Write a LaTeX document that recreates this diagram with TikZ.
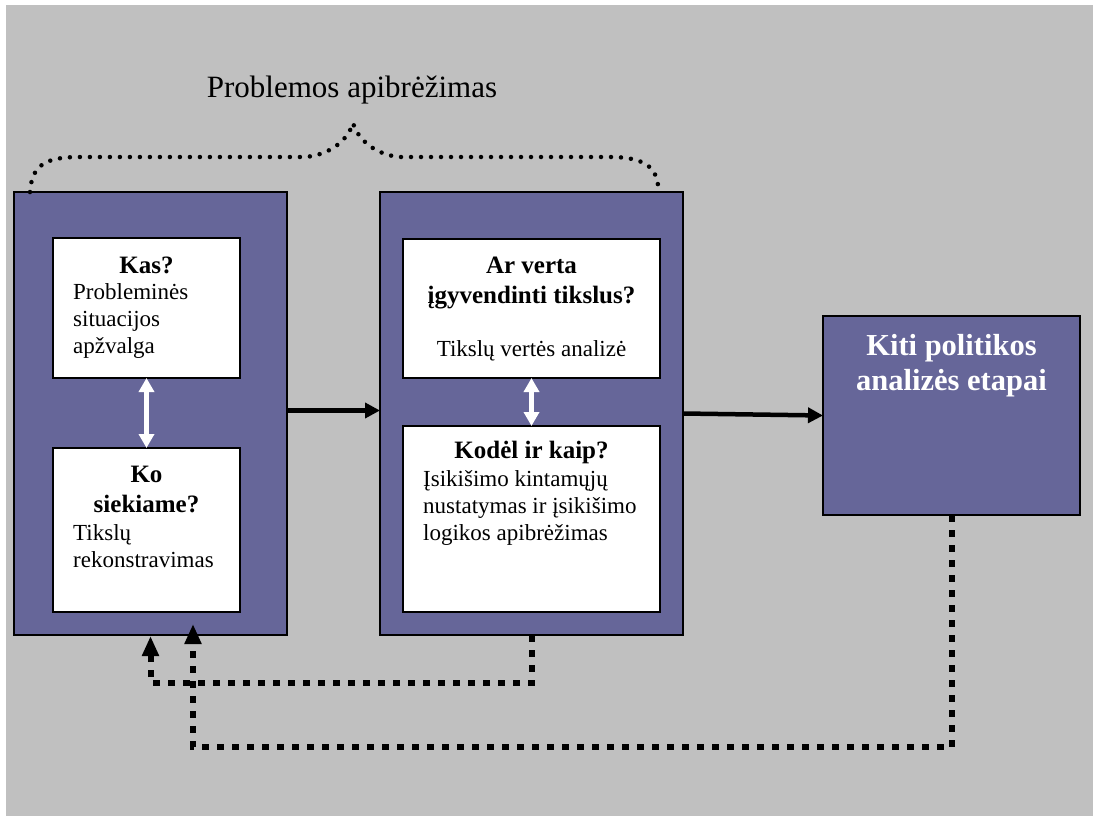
\documentclass[tikz,border=0pt]{standalone}
\usepackage{fontspec}
\setmainfont{Liberation Serif}
\usetikzlibrary{arrows.meta}
\definecolor{bggray}{HTML}{C0C0C0}
\definecolor{boxpurple}{HTML}{666699}
\tikzset{
  outerbox/.style={draw=black, fill=boxpurple, line width=1.5pt, anchor=north west, inner sep=0pt, outer sep=0pt},
  innerbox/.style={draw=black, fill=white, line width=1.5pt, anchor=north west, inner sep=0pt, outer sep=0pt},
  headtxt/.style={inner sep=0pt, anchor=north, align=center, font=\fontsize{25}{30}\selectfont\bfseries},
  bodytxt/.style={inner sep=0pt, anchor=north west, align=left, font=\fontsize{23}{27}\selectfont},
  bodyctxt/.style={inner sep=0pt, anchor=north, align=center, font=\fontsize{23}{27}\selectfont},
  whitearrow/.style={draw=white, line width=5pt, {Triangle[width=15pt,length=14pt]}-{Triangle[width=15pt,length=14pt]}},
  flowarrow/.style={draw=black, line width=4.5pt, -{Triangle[width=15pt,length=15pt]}},
  fbline/.style={draw=black, line width=6pt, dash pattern=on 7pt off 8pt, -{Triangle[width=16pt,length=20pt]}},
  bracedots/.style={draw=black, line width=4.5pt, dash pattern=on 0pt off 10pt, line cap=round}
}
\begin{document}
\begin{tikzpicture}[x=1pt,y=-1pt]
\useasboundingbox (0,0) rectangle (1093,816);
\fill[white] (0,0) rectangle (1093,816);
\fill[bggray] (6,5) rectangle (1093,816);

% title and brace
\node[inner sep=0pt, anchor=base, font=\fontsize{31}{36}\selectfont] (title) at (352,98) {Problemos apibrėžimas};

% boxes
\node[outerbox, minimum width=273pt, minimum height=443pt] (left) at (14,192) {};
\node[innerbox, minimum width=187pt, minimum height=140pt] (kas) at (53,238) {};
\node[innerbox, minimum width=187pt, minimum height=164pt] (ko) at (53,448) {};
\node[outerbox, minimum width=303pt, minimum height=443pt] (mid) at (380,192) {};
\node[innerbox, minimum width=257pt, minimum height=139pt] (ar) at (403,239) {};
\node[innerbox, minimum width=257pt, minimum height=186pt] (kod) at (403,426) {};
\node[outerbox, minimum width=257pt, minimum height=199pt] (right) at (823,316) {};

% brace coordinates
\coordinate (bL) at (30,192);
\coordinate (bTop) at (353,123);
\coordinate (bR) at (658,185);
\draw[bracedots] (bL) .. controls (32,165) and (45,157) .. (80,157) -- (305,157)
   .. controls (330,155) and (348,140) .. (bTop)
   .. controls (358,140) and (376,155) .. (400,157) -- (610,157)
   .. controls (645,157) and (656,168) .. (bR);

% texts
\node[headtxt] (kasH) at (146.5,252) {\strut Kas?};
\node[bodytxt] (kasB) at (73,280) {\strut Probleminės\\situacijos\\apžvalga};
\node[headtxt] (koH) at (146.5,461) {\strut Ko\\siekiame?};
\node[bodytxt] (koB) at (73,521) {\strut Tikslų\\rekonstravimas};
\node[headtxt] (arH) at (531.5,252) {\strut Ar verta\\įgyvendinti tikslus?};
\node[bodyctxt] (arB) at (531.5,337) {\strut Tikslų vertės analizė};
\node[headtxt] (kodH) at (531.5,437) {\strut Kodėl ir kaip?};
\node[bodytxt] (kodB) at (423,467) {\strut Įsikišimo kintamųjų\\nustatymas ir įsikišimo\\logikos apibrėžimas};
\node[inner sep=0pt, anchor=north, align=center, text=white, font=\fontsize{30.5}{35}\selectfont\bfseries] (kiti) at (951.5,330.5) {\strut Kiti politikos\\analizės etapai};

% connectors
\draw[whitearrow] (kas.south) -- (ko.north);
\draw[whitearrow] (ar.south) -- (kod.north);
\draw[flowarrow] ([yshift=3pt]left.east) -- ([yshift=3pt]mid.west);
\draw[flowarrow] (mid.east) -- (right.west);

\coordinate (fbA) at (150.5,636);
\coordinate (fbB) at (193,624);
\draw[fbline] (mid.south) |- (fbA |- 0,683) -- (fbA);
\draw[fbline] (right.south) |- (fbB |- 0,747) -- (fbB);
\end{tikzpicture}
\end{document}
